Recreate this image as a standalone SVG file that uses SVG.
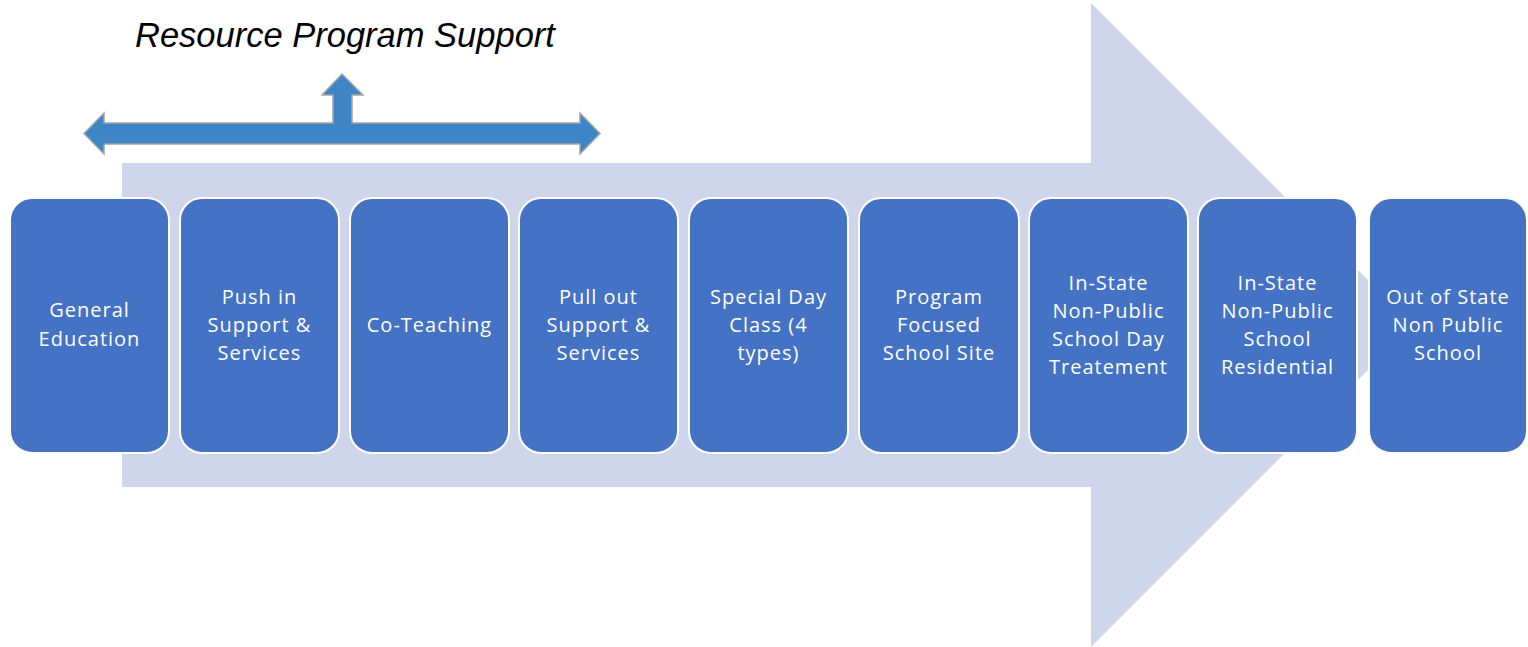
<svg xmlns="http://www.w3.org/2000/svg" width="1528" height="647" viewBox="0 0 1528 647">
<style>
.node rect{fill:#4472C4;stroke:#FFFFFF;stroke-width:2}
.node text{fill:#FFFFFF;font-family:"Open Sans","Noto Sans",sans-serif;font-size:20px;letter-spacing:1px;text-anchor:middle}
.title{font-family:"Liberation Sans",Arial,sans-serif;font-style:italic;font-size:34.5px;fill:#000000}
</style>
<rect width="1528" height="647" fill="#FFFFFF"/>
<g id="background-arrow">
<polygon points="122,163 1091,163 1091,3 1413,325 1091,647 1091,487 122,487" fill="#CFD5EA"/>
</g>
<g id="connectors">
<polygon points="84,133.5 104,113 104,123 333,123 333,95 322,95 342,74 363,95 352,95 352,123 580,123 580,113 600,133.5 580,154 580,144 104,144 104,154" fill="#3D85C6" stroke="#A5A5A5" stroke-width="1.5" stroke-linejoin="miter"/>
</g>
<g id="title">
<text class="title" x="135" y="47">Resource Program Support</text>
</g>
<g id="n1" class="node"><rect x="10" y="198" width="159" height="255" rx="22"/>
<text x="89.5" y="317">General</text><text x="89.5" y="346">Education</text></g>
<g id="n2" class="node"><rect x="180" y="198" width="159" height="255" rx="22"/>
<text x="259.5" y="304">Push in</text><text x="259.5" y="332">Support &amp;</text><text x="259.5" y="360">Services</text></g>
<g id="n3" class="node"><rect x="350" y="198" width="159" height="255" rx="22"/>
<text x="429.5" y="332">Co-Teaching</text></g>
<g id="n4" class="node"><rect x="519" y="198" width="159" height="255" rx="22"/>
<text x="598.5" y="304">Pull out</text><text x="598.5" y="332">Support &amp;</text><text x="598.5" y="360">Services</text></g>
<g id="n5" class="node"><rect x="689" y="198" width="159" height="255" rx="22"/>
<text x="768.5" y="304">Special Day</text><text x="768.5" y="332">Class (4</text><text x="768.5" y="360">types)</text></g>
<g id="n6" class="node"><rect x="859" y="198" width="160" height="255" rx="22"/>
<text x="939" y="304">Program</text><text x="939" y="332">Focused</text><text x="939" y="360">School Site</text></g>
<g id="n7" class="node"><rect x="1029" y="198" width="159" height="255" rx="22"/>
<text x="1108.5" y="290">In-State</text><text x="1108.5" y="318">Non-Public</text><text x="1108.5" y="346">School Day</text><text x="1108.5" y="374">Treatement</text></g>
<g id="n8" class="node"><rect x="1198" y="198" width="159" height="255" rx="22"/>
<text x="1277.5" y="290">In-State</text><text x="1277.5" y="318">Non-Public</text><text x="1277.5" y="346">School</text><text x="1277.5" y="374">Residential</text></g>
<g id="n9" class="node"><rect x="1369" y="198" width="158" height="255" rx="22"/>
<text x="1448" y="304">Out of State</text><text x="1448" y="332">Non Public</text><text x="1448" y="360">School</text></g>
</svg>
